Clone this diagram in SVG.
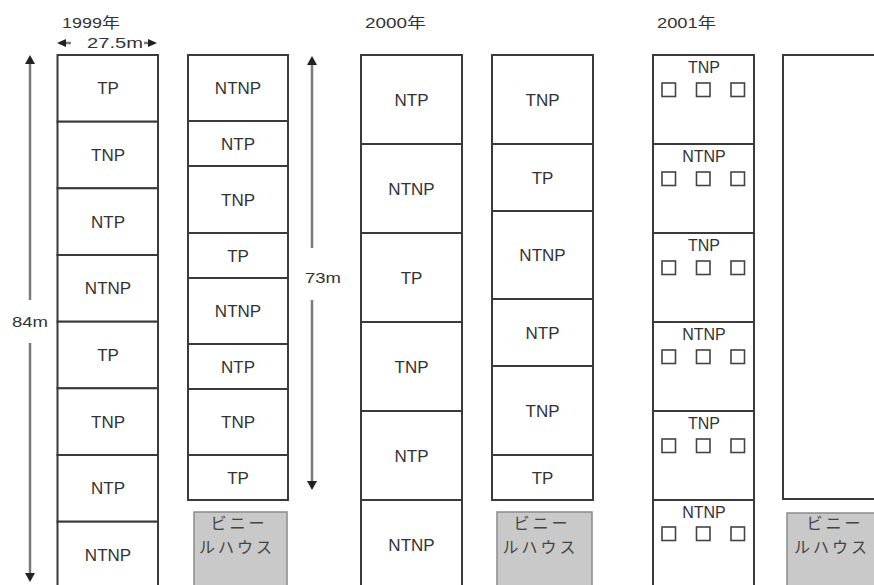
<svg xmlns="http://www.w3.org/2000/svg" width="874" height="585" viewBox="0 0 874 585">
<style>
  .cell { fill: #ffffff; stroke: #3a3a3a; stroke-width: 2; }
  .lbl { font-family: "Liberation Sans", Arial, sans-serif; font-size: 17px; fill: #333; text-anchor: middle; }
  .lbs { font-family: "Liberation Sans", Arial, sans-serif; font-size: 16px; fill: #333; text-anchor: middle; }
  .sq { fill: #ffffff; stroke: #444; stroke-width: 1.6; }
  .gh { fill: #c9c9c9; stroke: #8a8a8a; stroke-width: 1.5; }
  .ght { font-family: "Noto Sans CJK JP", sans-serif; font-size: 16px; letter-spacing: 3px; fill: #444; text-anchor: middle; }
  .yr { font-family: "Liberation Sans", "Noto Sans CJK JP", sans-serif; font-size: 15px; fill: #333; }
  .dim { font-family: "Liberation Sans", Arial, sans-serif; font-size: 14px; fill: #333; text-anchor: middle; }
  .dl { stroke: #7a7a7a; stroke-width: 2.5; fill: none; }
  .ah { fill: #222; }
</style>

<g id="years">
  <text class="yr" x="62" y="28" textLength="58" lengthAdjust="spacingAndGlyphs">1999年</text>
  <text class="yr" x="365" y="28" textLength="61" lengthAdjust="spacingAndGlyphs">2000年</text>
  <text class="yr" x="657" y="28" textLength="59" lengthAdjust="spacingAndGlyphs">2001年</text>
</g>

<g id="connectors">
  <!-- 27.5m width -->
  <line class="dl" x1="60" y1="43" x2="71" y2="43"/>
  <line class="dl" x1="144" y1="43" x2="154" y2="43"/>
  <polygon class="ah" points="57,43 66,39 66,47"/>
  <polygon class="ah" points="157,43 148,39 148,47"/>
  <text class="dim" x="115" y="48" textLength="56" lengthAdjust="spacingAndGlyphs">27.5m</text>
  <!-- 84m -->
  <line class="dl" x1="30" y1="60" x2="30" y2="300"/>
  <line class="dl" x1="30" y1="343" x2="30" y2="577"/>
  <polygon class="ah" points="30,55 25,64 35,64"/>
  <polygon class="ah" points="30,582 25,573 35,573"/>
  <text class="dim" x="30" y="327" textLength="36" lengthAdjust="spacingAndGlyphs">84m</text>
  <!-- 73m -->
  <line class="dl" x1="312" y1="61" x2="312" y2="248"/>
  <line class="dl" x1="312" y1="300" x2="312" y2="485"/>
  <polygon class="ah" points="312,56 307,65 317,65"/>
  <polygon class="ah" points="312,490 307,481 317,481"/>
  <text class="dim" x="323" y="283" textLength="36" lengthAdjust="spacingAndGlyphs">73m</text>
</g>

<!-- Column 1 (1999) -->
<g id="c1-1"><rect class="cell" x="57.5" y="55" width="100.5" height="66.7"/><text class="lbl" x="108" y="94">TP</text></g>
<g id="c1-2"><rect class="cell" x="57.5" y="121.7" width="100.5" height="66.6"/><text class="lbl" x="108" y="161">TNP</text></g>
<g id="c1-3"><rect class="cell" x="57.5" y="188.3" width="100.5" height="66.7"/><text class="lbl" x="108" y="228">NTP</text></g>
<g id="c1-4"><rect class="cell" x="57.5" y="255" width="100.5" height="66.7"/><text class="lbl" x="108" y="294">NTNP</text></g>
<g id="c1-5"><rect class="cell" x="57.5" y="321.7" width="100.5" height="66.6"/><text class="lbl" x="108" y="361">TP</text></g>
<g id="c1-6"><rect class="cell" x="57.5" y="388.3" width="100.5" height="66.7"/><text class="lbl" x="108" y="428">TNP</text></g>
<g id="c1-7"><rect class="cell" x="57.5" y="455" width="100.5" height="66.7"/><text class="lbl" x="108" y="494">NTP</text></g>
<g id="c1-8"><rect class="cell" x="57.5" y="521.7" width="100.5" height="66.6"/><text class="lbl" x="108" y="561">NTNP</text></g>

<!-- Column 2 (1999) -->
<g id="c2-1"><rect class="cell" x="188" y="55" width="100" height="66"/><text class="lbl" x="238" y="94">NTNP</text></g>
<g id="c2-2"><rect class="cell" x="188" y="121" width="100" height="45"/><text class="lbl" x="238" y="149.5">NTP</text></g>
<g id="c2-3"><rect class="cell" x="188" y="166" width="100" height="67"/><text class="lbl" x="238" y="205.5">TNP</text></g>
<g id="c2-4"><rect class="cell" x="188" y="233" width="100" height="45"/><text class="lbl" x="238" y="261.5">TP</text></g>
<g id="c2-5"><rect class="cell" x="188" y="278" width="100" height="66"/><text class="lbl" x="238" y="317">NTNP</text></g>
<g id="c2-6"><rect class="cell" x="188" y="344" width="100" height="45"/><text class="lbl" x="238" y="372.5">NTP</text></g>
<g id="c2-7"><rect class="cell" x="188" y="389" width="100" height="66"/><text class="lbl" x="238" y="428">TNP</text></g>
<g id="c2-8"><rect class="cell" x="188" y="455" width="100" height="45"/><text class="lbl" x="238" y="483.5">TP</text></g>
<g id="gh1"><rect class="gh" x="194" y="512" width="93" height="80"/><text class="ght" x="239" y="528.5">ビニー</text><text class="ght" x="237" y="552.5">ルハウス</text></g>

<!-- Column 3 (2000) -->
<g id="c3-1"><rect class="cell" x="361" y="55" width="101" height="89"/><text class="lbl" x="411.5" y="105.5">NTP</text></g>
<g id="c3-2"><rect class="cell" x="361" y="144" width="101" height="89"/><text class="lbl" x="411.5" y="194.5">NTNP</text></g>
<g id="c3-3"><rect class="cell" x="361" y="233" width="101" height="89"/><text class="lbl" x="411.5" y="283.5">TP</text></g>
<g id="c3-4"><rect class="cell" x="361" y="322" width="101" height="89"/><text class="lbl" x="411.5" y="372.5">TNP</text></g>
<g id="c3-5"><rect class="cell" x="361" y="411" width="101" height="89"/><text class="lbl" x="411.5" y="461.5">NTP</text></g>
<g id="c3-6"><rect class="cell" x="361" y="500" width="101" height="89"/><text class="lbl" x="411.5" y="550.5">NTNP</text></g>

<!-- Column 4 (2000) -->
<g id="c4-1"><rect class="cell" x="492" y="55" width="101" height="89"/><text class="lbl" x="542.5" y="105.5">TNP</text></g>
<g id="c4-2"><rect class="cell" x="492" y="144" width="101" height="67"/><text class="lbl" x="542.5" y="183.5">TP</text></g>
<g id="c4-3"><rect class="cell" x="492" y="211" width="101" height="88"/><text class="lbl" x="542.5" y="261">NTNP</text></g>
<g id="c4-4"><rect class="cell" x="492" y="299" width="101" height="67"/><text class="lbl" x="542.5" y="338.5">NTP</text></g>
<g id="c4-5"><rect class="cell" x="492" y="366" width="101" height="89"/><text class="lbl" x="542.5" y="416.5">TNP</text></g>
<g id="c4-6"><rect class="cell" x="492" y="455" width="101" height="45"/><text class="lbl" x="542.5" y="483.5">TP</text></g>
<g id="gh2"><rect class="gh" x="497" y="512" width="95" height="80"/><text class="ght" x="542" y="528.5">ビニー</text><text class="ght" x="540.5" y="552.5">ルハウス</text></g>

<!-- Column 5 (2001) -->
<g id="c5-1"><rect class="cell" x="653" y="55" width="101" height="89"/><text class="lbs" x="704" y="73">TNP</text>
  <rect class="sq" x="662" y="83" width="13.5" height="13.5"/><rect class="sq" x="696.5" y="83" width="13.5" height="13.5"/><rect class="sq" x="731" y="83" width="13.5" height="13.5"/></g>
<g id="c5-2"><rect class="cell" x="653" y="144" width="101" height="89"/><text class="lbs" x="704" y="162">NTNP</text>
  <rect class="sq" x="662" y="172" width="13.5" height="13.5"/><rect class="sq" x="696.5" y="172" width="13.5" height="13.5"/><rect class="sq" x="731" y="172" width="13.5" height="13.5"/></g>
<g id="c5-3"><rect class="cell" x="653" y="233" width="101" height="89"/><text class="lbs" x="704" y="251">TNP</text>
  <rect class="sq" x="662" y="261" width="13.5" height="13.5"/><rect class="sq" x="696.5" y="261" width="13.5" height="13.5"/><rect class="sq" x="731" y="261" width="13.5" height="13.5"/></g>
<g id="c5-4"><rect class="cell" x="653" y="322" width="101" height="89"/><text class="lbs" x="704" y="340">NTNP</text>
  <rect class="sq" x="662" y="350" width="13.5" height="13.5"/><rect class="sq" x="696.5" y="350" width="13.5" height="13.5"/><rect class="sq" x="731" y="350" width="13.5" height="13.5"/></g>
<g id="c5-5"><rect class="cell" x="653" y="411" width="101" height="89"/><text class="lbs" x="704" y="429">TNP</text>
  <rect class="sq" x="662" y="439" width="13.5" height="13.5"/><rect class="sq" x="696.5" y="439" width="13.5" height="13.5"/><rect class="sq" x="731" y="439" width="13.5" height="13.5"/></g>
<g id="c5-6"><rect class="cell" x="653" y="500" width="101" height="89"/><text class="lbs" x="704" y="518">NTNP</text>
  <rect class="sq" x="662" y="527" width="13.5" height="13.5"/><rect class="sq" x="696.5" y="527" width="13.5" height="13.5"/><rect class="sq" x="731" y="527" width="13.5" height="13.5"/></g>

<!-- Column 6 (2001) -->
<g id="c6-1"><rect class="cell" x="783" y="55" width="100" height="444"/></g>
<g id="gh3"><rect class="gh" x="787" y="513" width="95" height="80"/><text class="ght" x="835" y="528.5">ビニー</text><text class="ght" x="832" y="552.5">ルハウス</text></g>
</svg>
